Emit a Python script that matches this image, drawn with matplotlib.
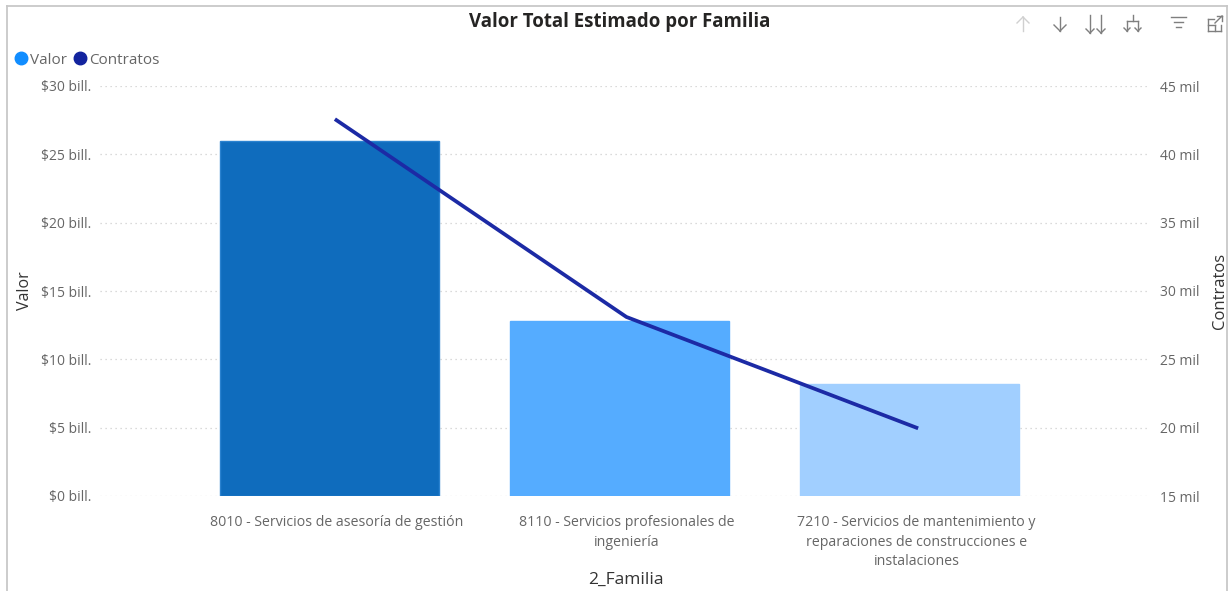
#!/usr/bin/env python3
import matplotlib
matplotlib.use("Agg")
import matplotlib.pyplot as plt
from matplotlib.lines import Line2D
from matplotlib.transforms import offset_copy

plt.rcParams['font.family'] = ['Open Sans', 'DejaVu Sans']

W, H = 1232, 591

# Data
familias = ["8010 - Servicios de asesoría de gestión",
            "8110 - Servicios profesionales de\ningeniería",
            "7210 - Servicios de mantenimiento y\nreparaciones de construcciones e\ninstalaciones"]
valor = [25.98, 12.8, 8.2]
contratos = [42.5, 28.1, 20.0]
bar_colors = ["#0F6CBD", "#55ACFF", "#A1CFFF"]
bar_edges = ["#2A82D0", "#55ACFF", "#A1CFFF"]
valor_ticks = [0, 5, 10, 15, 20, 25, 30]
contratos_ticks = [15, 20, 25, 30, 35, 40, 45]

text_gray = "#666666"
line_color = "#1C2AA5"

fig = plt.figure(figsize=(W / 100, H / 100), dpi=100)


def px_x(x):
    return x / W


def px_y(y):
    return 1 - y / H


# Plot area, pixels: left 100, right 1150, top 86, bottom 496
ax = fig.add_axes([px_x(100), px_y(496), 1050 / W, 410 / H])
ax.bar(range(3), valor, width=0.755, color=bar_colors, edgecolor=bar_edges, linewidth=1, zorder=3)
ax.set_xlim(-0.793, 2.828)
ax.set_ylim(0, 30)
ax.set_yticks(valor_ticks)
ax.set_yticklabels([f"${v} bill." for v in valor_ticks], fontsize=10, color=text_gray, va='center_baseline')
ax.set_xticks(range(3))
ax.set_xticklabels(familias, fontsize=10.2, color=text_gray, linespacing=1.4)
ax.tick_params(axis='x', length=0, pad=14)
ax.tick_params(axis='y', length=0, pad=6)
ax.grid(axis='y', color="#CFCFCF", linestyle=(0, (1, 3)), linewidth=0.9, zorder=0)
ax.set_axisbelow(True)
for s in ax.spines.values():
    s.set_visible(False)

# category labels and the line sit a few pixels right of the bar centres in the original
for lbl in ax.get_xticklabels():
    lbl.set_transform(offset_copy(lbl.get_transform(), fig=fig, x=6.5, y=0, units='dots'))

ax2 = ax.twinx()
line_trans = offset_copy(ax2.transData, fig=fig, x=6.5, y=0, units='dots')
ax2.plot(range(3), contratos, color=line_color, linewidth=2.7, zorder=4, transform=line_trans)
ax2.set_ylim(15, 45)
ax2.set_yticks(contratos_ticks)
ax2.set_yticklabels([f"{v} mil" for v in contratos_ticks], fontsize=10, color=text_gray, va='center_baseline')
ax2.tick_params(length=0, pad=7)
for s in ax2.spines.values():
    s.set_visible(False)

# Axis titles and chart title
fig.text(px_x(25), px_y(291), "Valor", rotation=90, ha='center', va='center', fontsize=11.5, color="#333333")
fig.text(px_x(1220), px_y(291), "Contratos", rotation=90, ha='center', va='center', fontsize=12, color="#333333")
fig.text(px_x(626), px_y(580), "2_Familia", ha='center', va='center', fontsize=12.5, color="#333333")
fig.text(px_x(620), px_y(22), "Valor Total Estimado por Familia", ha='center', va='center',
         fontsize=13.4, fontweight='bold', color="#252423")

# Legend
fig.add_artist(Line2D([px_x(21)], [px_y(58)], marker='o', markersize=9, color="#118DFF", linestyle='none'))
fig.text(px_x(30), px_y(60), "Valor", ha='left', va='center', fontsize=11, color=text_gray)
fig.add_artist(Line2D([px_x(80)], [px_y(58)], marker='o', markersize=9, color="#12239E", linestyle='none'))
fig.text(px_x(89), px_y(60), "Contratos", ha='left', va='center', fontsize=11, color=text_gray)


# Visual frame and header icons
def seg(x0, y0, x1, y1, color="#7F7F7F", lw=1.0):
    fig.add_artist(Line2D([px_x(x0), px_x(x1)], [px_y(y0), px_y(y1)], color=color, linewidth=lw))


seg(7, 6, 1227, 6, "#C8C8C8", 1.3)
seg(7, 6, 7, 591, "#C8C8C8", 1.3)
seg(1227, 6, 1227, 591, "#C8C8C8", 1.3)


def arrow(x, top, bottom, up=False, color="#7F7F7F", head=6):
    seg(x, top, x, bottom, color)
    tip, back = (top, top + head) if up else (bottom, bottom - head)
    seg(x - head, back, x, tip, color)
    seg(x + head, back, x, tip, color)


arrow(1023, 17, 31, up=True, color="#D0D0D0")
arrow(1060, 17, 31)
arrow(1090, 15, 33, head=4)
arrow(1101, 15, 33, head=4)

# expand-next-level icon
seg(1133, 15, 1133, 21)
seg(1127, 21, 1138, 21)
for x in (1127, 1138):
    arrow(x, 21, 31, head=3)

# filter icon
seg(1171, 17, 1186, 17)
seg(1174, 22, 1183, 22)
seg(1176, 27, 1181, 27)

# focus mode icon
seg(1208, 19, 1208, 31)
seg(1208, 31, 1221, 31)
seg(1221, 31, 1221, 25)
seg(1208, 19, 1214, 19)
seg(1208, 25, 1215, 25)
seg(1215, 25, 1215, 31)
seg(1215, 23, 1222, 16)
seg(1217, 16, 1222, 16)
seg(1222, 16, 1222, 21)

fig.savefig("out.png", dpi=100)
